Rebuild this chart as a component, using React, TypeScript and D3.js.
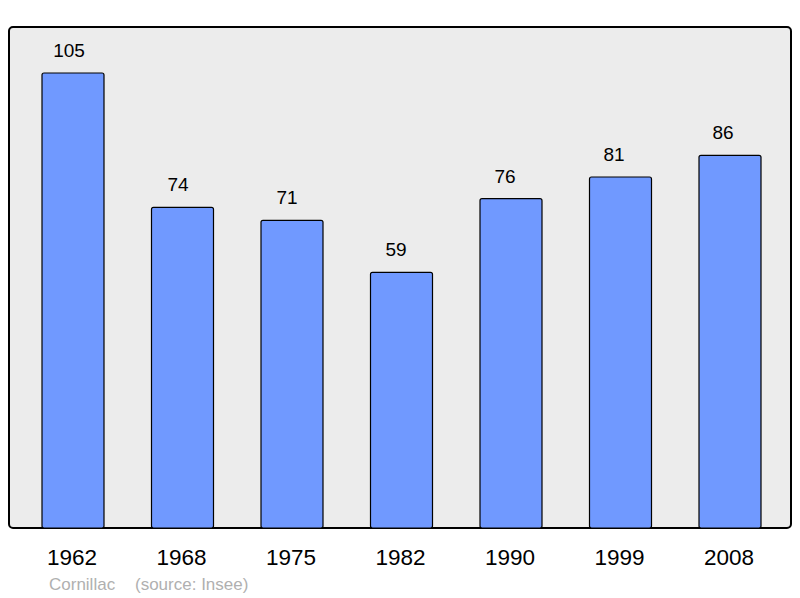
import React from 'react'
import * as d3 from 'd3'

const years = ['1962', '1968', '1975', '1982', '1990', '1999', '2008']
const population = [105, 74, 71, 59, 76, 81, 86]
const townName = 'Cornillac'
const sourceNote = '(source: Insee)'

const width = 800
const height = 598
const panel = { left: 9, top: 27, right: 791, bottom: 528 }
const barWidth = 62

const App = () => {
     const xScale = d3.scalePoint().domain(years).range([73, 730])
     // value labels sit slightly left of the bar centres, drifting more to the right
     const labelScale = d3.scalePoint().domain(years).range([69, 723])
     const yScale = d3
          .scaleLinear()
          .domain([0, d3.max(population) as number])
          .range([panel.bottom, 73])

     const font = "'Liberation Sans', Arial, sans-serif"

     return (
          <svg
               width={width}
               height={height}
               style={{ position: 'absolute', left: 0, top: 0, background: '#fff' }}
          >
               <rect
                    x={panel.left}
                    y={panel.top}
                    width={panel.right - panel.left}
                    height={panel.bottom - panel.top}
                    rx={4}
                    fill="#ececec"
                    stroke="#000"
                    strokeWidth={2}
               />
               {years.map((yr, i) => {
                    const cx = xScale(yr) as number
                    const y = yScale(population[i])
                    return (
                         <g key={yr}>
                              <rect
                                   x={cx - barWidth / 2}
                                   y={y}
                                   width={barWidth}
                                   height={panel.bottom - y}
                                   rx={2}
                                   fill="#7099ff"
                                   stroke="#000"
                                   strokeWidth={1.2}
                              />
                              <text
                                   x={labelScale(yr) as number}
                                   y={y - 16}
                                   textAnchor="middle"
                                   fontFamily={font}
                                   fontSize={19}
                                   fill="#000"
                              >
                                   {population[i]}
                              </text>
                              <text
                                   x={cx - 1}
                                   y={565}
                                   textAnchor="middle"
                                   fontFamily={font}
                                   fontSize={22.5}
                                   fill="#000"
                              >
                                   {yr}
                              </text>
                         </g>
                    )
               })}
               <text x={49} y={590} fontFamily={font} fontSize={17} fill="#b0b0b0">
                    {townName}
               </text>
               <text x={135} y={590} fontFamily={font} fontSize={17} fill="#b0b0b0">
                    {sourceNote}
               </text>
          </svg>
     )
}

export default App
